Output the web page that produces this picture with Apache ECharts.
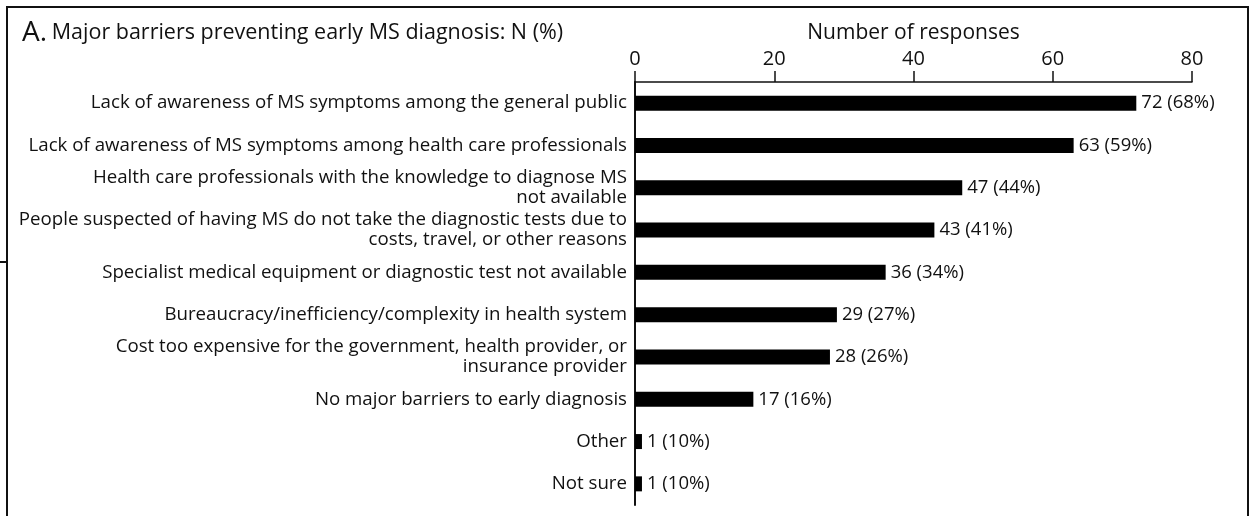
<!DOCTYPE html>
<html>
<head>
<meta charset="utf-8">
<script src="https://cdn.jsdelivr.net/npm/echarts@6/dist/echarts.min.js"></script>
<style>
  html, body { margin: 0; padding: 0; background: #fff; }
  #chart { width: 1255px; height: 516px; }
</style>
</head>
<body>
<div id="chart"></div>
<script>
const categories = [
  'Lack of awareness of MS symptoms among the general public',
  'Lack of awareness of MS symptoms among health care professionals',
  'Health care professionals with the knowledge to diagnose MS\nnot available',
  'People suspected of having MS do not take the diagnostic tests due to\ncosts, travel, or other reasons',
  'Specialist medical equipment or diagnostic test not available',
  'Bureaucracy/inefficiency/complexity in health system',
  'Cost too expensive for the government, health provider, or\ninsurance provider',
  'No major barriers to early diagnosis',
  'Other',
  'Not sure'
]
const counts = [72, 63, 47, 43, 36, 29, 28, 17, 1, 1]
const percents = [68, 59, 44, 41, 34, 27, 26, 16, 10, 10]
const xTicks = [0, 20, 40, 60, 80]

const font = '"Open Sans", "Noto Sans", sans-serif'

var chart = echarts.init(document.getElementById('chart'))

var option = {
  animation: false,
  textStyle: { fontFamily: font },
  title: {
    left: 17,
    top: 14,
    text: '{a|A.} {b|Major barriers preventing early MS diagnosis: N (%)}',
    textStyle: {
      fontWeight: 'normal',
      rich: {
        a: { fontSize: 28, color: '#111', fontFamily: font, fontWeight: 'normal' },
        b: { fontSize: 21.5, color: '#111', fontFamily: font, fontWeight: 'normal' }
      }
    }
  },
  graphic: [
    {
      type: 'rect',
      shape: { x: 7, y: 7, width: 1241, height: 600 },
      style: { fill: 'none', stroke: '#111', lineWidth: 2 }
    },
    {
      type: 'line',
      shape: { x1: 0, y1: 262, x2: 7, y2: 262 },
      style: { stroke: '#111', lineWidth: 2 }
    }
  ],
  grid: { left: 635, right: 63, top: 82, bottom: 11 },
  xAxis: {
    type: 'value',
    position: 'top',
    min: 0,
    max: 80,
    interval: 20,
    name: 'Number of responses',
    nameLocation: 'middle',
    nameGap: 38,
    nameTextStyle: { fontSize: 21, color: '#111' },
    axisLine: { show: true, lineStyle: { color: '#111', width: 1.5 } },
    axisTick: { show: true, length: 11, lineStyle: { color: '#111', width: 1.5 } },
    axisLabel: {
      fontSize: 20, color: '#111', margin: 13,
      formatter: v => xTicks.includes(v) ? String(v) : ''
    },
    splitLine: { show: false }
  },
  yAxis: {
    type: 'category',
    inverse: true,
    data: categories,
    axisLine: { show: true, lineStyle: { color: '#111', width: 2 } },
    axisTick: { show: false },
    axisLabel: { fontSize: 18.7, color: '#111', margin: 8, align: 'right', lineHeight: 20 }
  },
  series: [{
    type: 'bar',
    data: counts,
    barWidth: 15,
    itemStyle: { color: '#000' },
    label: {
      show: true,
      position: 'right',
      distance: 5,
      fontSize: 18.5,
      color: '#111',
      formatter: p => counts[p.dataIndex] + ' (' + percents[p.dataIndex] + '%)'
    }
  }]
}

option && chart.setOption(option)
</script>
</body>
</html>
